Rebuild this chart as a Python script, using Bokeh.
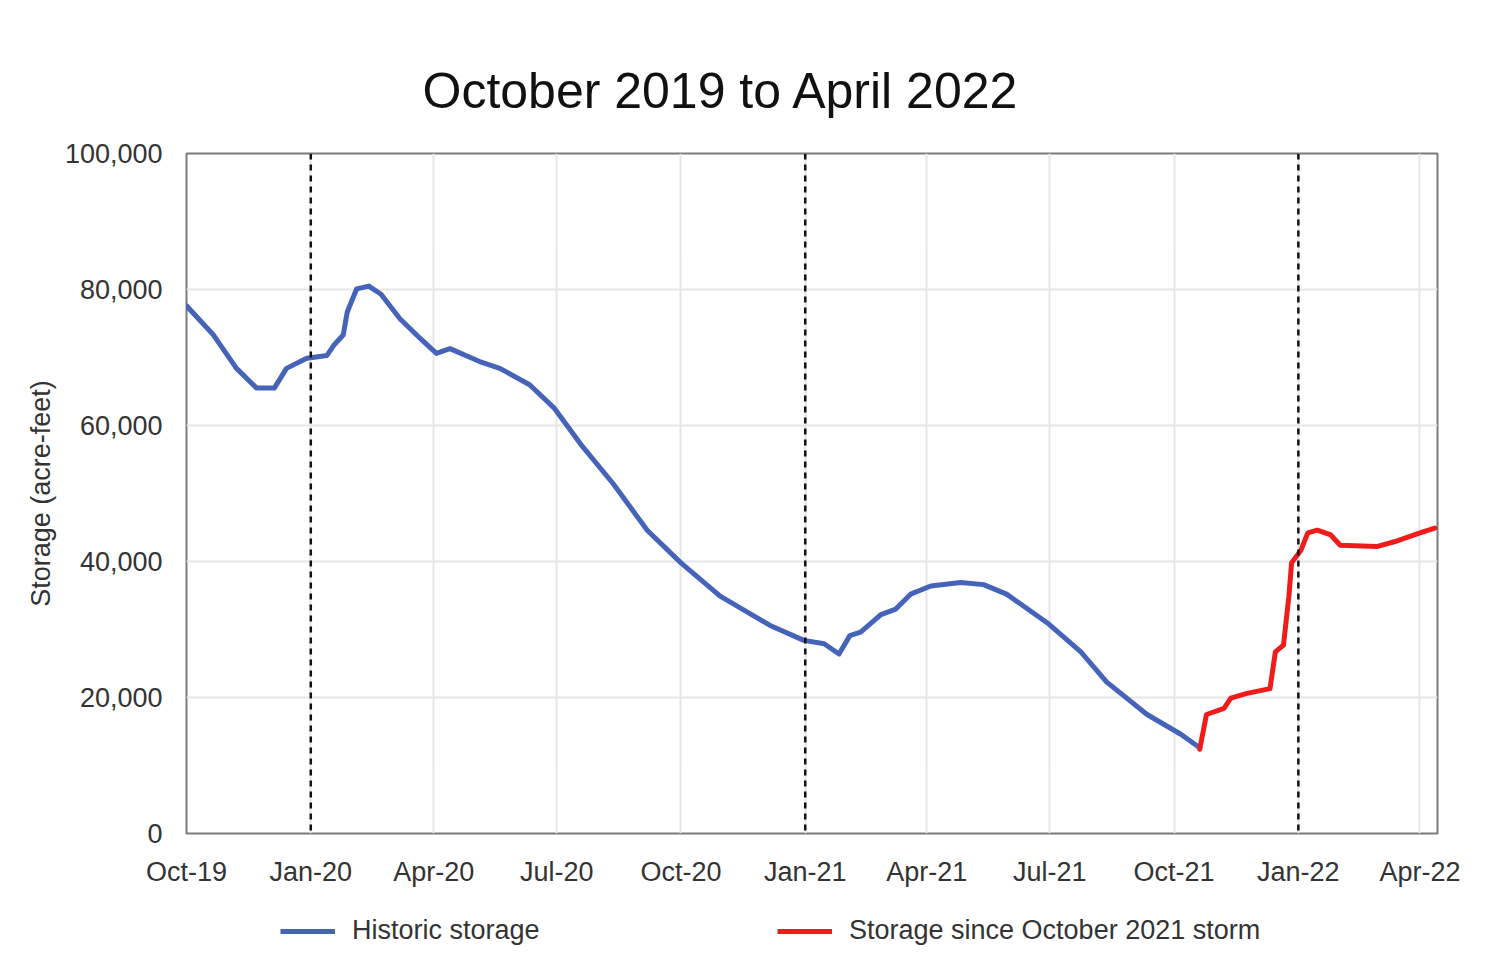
from datetime import datetime
import pandas as pd
from bokeh.plotting import figure
from bokeh.layouts import column
from bokeh.models import (Span, Legend, LegendItem, FixedTicker, DatetimeTickFormatter,
                          NumeralTickFormatter, Range1d, ColumnDataSource)
from bokeh.embed import file_html
from bokeh.resources import INLINE

# ---------------- data ----------------
hist_dates = ["2019-10-01", "2019-10-21", "2019-11-07", "2019-11-22", "2019-12-05", "2019-12-14",
              "2019-12-29", "2020-01-13", "2020-01-18", "2020-01-25", "2020-01-28", "2020-02-04",
              "2020-02-13", "2020-02-22", "2020-03-07", "2020-03-22", "2020-04-03", "2020-04-13",
              "2020-05-05", "2020-05-20", "2020-06-11", "2020-06-29", "2020-07-19", "2020-08-12",
              "2020-09-06", "2020-10-01", "2020-10-30", "2020-12-06", "2020-12-31", "2021-01-15",
              "2021-01-26", "2021-02-03", "2021-02-11", "2021-02-26", "2021-03-09", "2021-03-20",
              "2021-04-04", "2021-04-26", "2021-05-13", "2021-05-30", "2021-06-29", "2021-07-24",
              "2021-08-12", "2021-09-11", "2021-10-06", "2021-10-20"]
hist_storage = [77600, 73300, 68400, 65500, 65500, 68400,
                69900, 70300, 71800, 73300, 76700, 80100,
                80500, 79300, 75700, 72800, 70600, 71300,
                69400, 68400, 66000, 62600, 57200, 51400,
                44600, 39800, 34900, 30600, 28400, 27900,
                26400, 29100, 29600, 32200, 33000, 35200,
                36400, 36900, 36600, 35200, 31000, 26700,
                22300, 17500, 14600, 12600]

storm_dates = ["2021-10-20", "2021-10-25", "2021-11-07", "2021-11-12", "2021-11-24", "2021-12-11",
               "2021-12-15", "2021-12-21", "2021-12-25", "2021-12-27", "2022-01-03", "2022-01-08",
               "2022-01-15", "2022-01-25", "2022-02-01", "2022-02-28", "2022-03-13", "2022-04-01",
               "2022-04-12"]
storm_storage = [12400, 17500, 18400, 19900, 20600, 21300,
                 26700, 27700, 34900, 39800, 41700, 44200,
                 44600, 43900, 42400, 42200, 42900, 44200,
                 44900]

tick_dates = ["2019-10-01", "2020-01-01", "2020-04-01", "2020-07-01", "2020-10-01", "2021-01-01",
              "2021-04-01", "2021-07-01", "2021-10-01", "2022-01-01", "2022-04-01"]
year_marks = ["2020-01-01", "2021-01-01", "2022-01-01"]
y_ticks = [0, 20000, 40000, 60000, 80000, 100000]

title_text = "October 2019 to April 2022"
y_label = "Storage (acre-feet)"
series_names = ["Historic storage", "Storage since October 2021 storm"]
series_colors = ["#4563b8", "#f01c1c"]


def to_ms(dates):
    return [float(v) for v in (pd.to_datetime(dates).astype("int64") // 10**6)]


FONT = "Liberation Sans"
TXT = "#333333"
W = 1503

# ---------------- main chart ----------------
p1 = figure(width=W, height=889, output_backend="svg", toolbar_location=None,
            x_axis_type="datetime",
            x_range=Range1d(start=datetime(2019, 10, 1), end=datetime(2022, 4, 14)),
            y_range=Range1d(start=0, end=100000),
            min_border_left=186, min_border_right=66, min_border_top=153, min_border_bottom=49,
            background_fill_color="white", border_fill_color="white")

p1.title.text = title_text
p1.title.text_font = FONT
p1.title.text_font_size = "50px"
p1.title.text_font_style = "normal"
p1.title.text_color = "#111111"
p1.title.align = "left"
p1.title.offset = 236
p1.title.standoff = 69

p1.outline_line_color = "#7a7a7a"
p1.outline_line_width = 2

for ax in (p1.xaxis[0], p1.yaxis[0]):
    ax.axis_line_color = None
    ax.major_tick_line_color = None
    ax.minor_tick_line_color = None
    ax.major_label_text_font = FONT
    ax.major_label_text_font_size = "27px"
    ax.major_label_text_color = TXT

p1.xaxis[0].ticker = FixedTicker(ticks=to_ms(tick_dates))
p1.xaxis[0].formatter = DatetimeTickFormatter(
    years="%b-%y", months="%b-%y", days="%b-%y", hours="%b-%y", minutes="%b-%y",
    seconds="%b-%y", milliseconds="%b-%y", minsec="%b-%y", hourmin="%b-%y")
p1.xaxis[0].major_label_standoff = 17

p1.yaxis[0].ticker = FixedTicker(ticks=y_ticks)
p1.yaxis[0].formatter = NumeralTickFormatter(format="0,0")
p1.yaxis[0].major_label_standoff = 18
p1.yaxis[0].axis_label = y_label
p1.yaxis[0].axis_label_text_font = FONT
p1.yaxis[0].axis_label_text_font_size = "27px"
p1.yaxis[0].axis_label_text_font_style = "normal"
p1.yaxis[0].axis_label_text_color = TXT
p1.yaxis[0].axis_label_standoff = 6

p1.xgrid.grid_line_color = "#e6e6e6"
p1.ygrid.grid_line_color = "#e6e6e6"
p1.xgrid.grid_line_width = 2
p1.ygrid.grid_line_width = 2

for d in to_ms(year_marks):
    p1.add_layout(Span(location=d, dimension="height", line_color="#111111",
                       line_width=2.5, line_dash="6 5"))

hist_src = ColumnDataSource(dict(x=to_ms(hist_dates), y=hist_storage))
storm_src = ColumnDataSource(dict(x=to_ms(storm_dates), y=storm_storage))

p1.line("x", "y", source=hist_src, line_color=series_colors[0], line_width=5,
        line_join="round", line_cap="round")
p1.line("x", "y", source=storm_src, line_color=series_colors[1], line_width=5,
        line_join="round", line_cap="round")

# ---------------- legend strip under the chart ----------------
# the strip's ranges exclude the data, so only the legend shows
p2 = figure(width=W, height=57, output_backend="svg", toolbar_location=None,
            x_axis_location=None, y_axis_location=None,
            x_range=Range1d(0, 1), y_range=Range1d(0, 1),
            min_border=0, outline_line_color=None,
            background_fill_color="white", border_fill_color="white")
p2.xgrid.visible = False
p2.ygrid.visible = False
leg_r = [p2.line("x", "y", source=s, line_color=c, line_width=5)
         for s, c in zip([hist_src, storm_src], series_colors)]

legend = Legend(items=[LegendItem(label=n, renderers=[r]) for n, r in zip(series_names, leg_r)],
                orientation="horizontal", location=(94, 0),
                spacing=235, glyph_width=55, glyph_height=30, label_height=30,
                label_width=190, label_standoff=17,
                label_text_font=FONT, label_text_font_size="27px", label_text_color=TXT,
                margin=0, padding=0, border_line_alpha=0, background_fill_alpha=0)
p2.add_layout(legend, "center")

p = column(p1, p2, spacing=0)

open("out.html", "w").write(file_html(p, INLINE))
